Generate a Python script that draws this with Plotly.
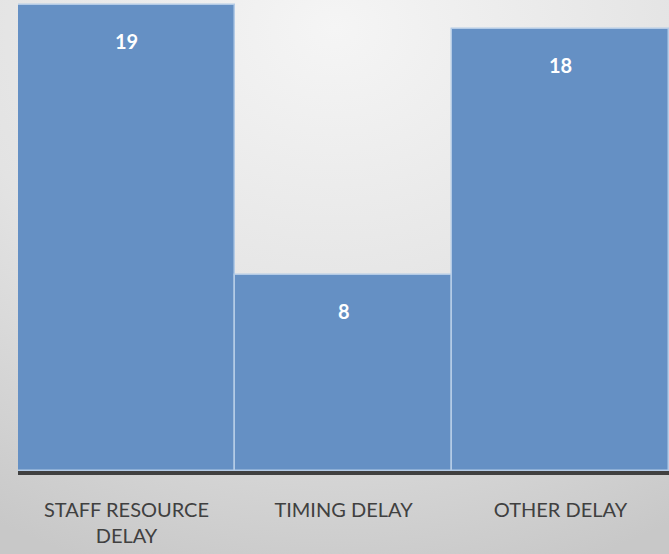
import plotly.graph_objects as go
import base64

categories = ["STAFF RESOURCE<br>DELAY", "TIMING DELAY", "OTHER DELAY"]
values = [19, 8, 18]
value_labels = ["19", "8", "18"]

svg = """<svg xmlns='http://www.w3.org/2000/svg' width='669' height='554'>
<defs><radialGradient id='g' cx='50%' cy='8%' r='100%' fx='50%' fy='5%'>
<stop offset='0%' stop-color='#f5f5f5'/>
<stop offset='55%' stop-color='#e3e3e3'/>
<stop offset='100%' stop-color='#c8c8c8'/>
</radialGradient></defs>
<rect width='669' height='554' fill='url(#g)'/></svg>"""
bg_src = "data:image/svg+xml;base64," + base64.b64encode(svg.encode()).decode()

fig = go.Figure()
fig.add_trace(go.Bar(
    x=categories, y=values,
    marker=dict(color="#6590c4", line=dict(color="#b4cbe6", width=1.5)),
    hoverinfo="skip",
))

for c, v, t in zip(categories, values, value_labels):
    fig.add_annotation(x=c, y=v, text="<b>" + t + "</b>", showarrow=False,
                       yshift=-36, font=dict(family="Lato", size=20, color="white"))

fig.add_layout_image(dict(source=bg_src, xref="paper", yref="paper",
                          x=-18/651, y=1, sizex=669/651, sizey=554/471,
                          xanchor="left", yanchor="top", sizing="stretch",
                          layer="below"))

fig.update_layout(
    width=669, height=554,
    margin=dict(l=18, r=0, t=0, b=83),
    paper_bgcolor="#dcdcdc", plot_bgcolor="rgba(0,0,0,0)",
    bargap=0, showlegend=False,
    font=dict(family="Lato", size=20, color="#404040"),
)
fig.update_xaxes(showline=True, linecolor="#404040", linewidth=4,
                 showgrid=False, ticks="", ticklabelstandoff=18,
                 tickfont=dict(family="Lato", size=20, color="#404040"))
fig.update_yaxes(range=[0, 19.2], visible=False, showgrid=False)

fig.write_html("out.html", config={"displayModeBar": False},
               post_script="document.body.style.margin='0';document.body.style.overflow='hidden';")
